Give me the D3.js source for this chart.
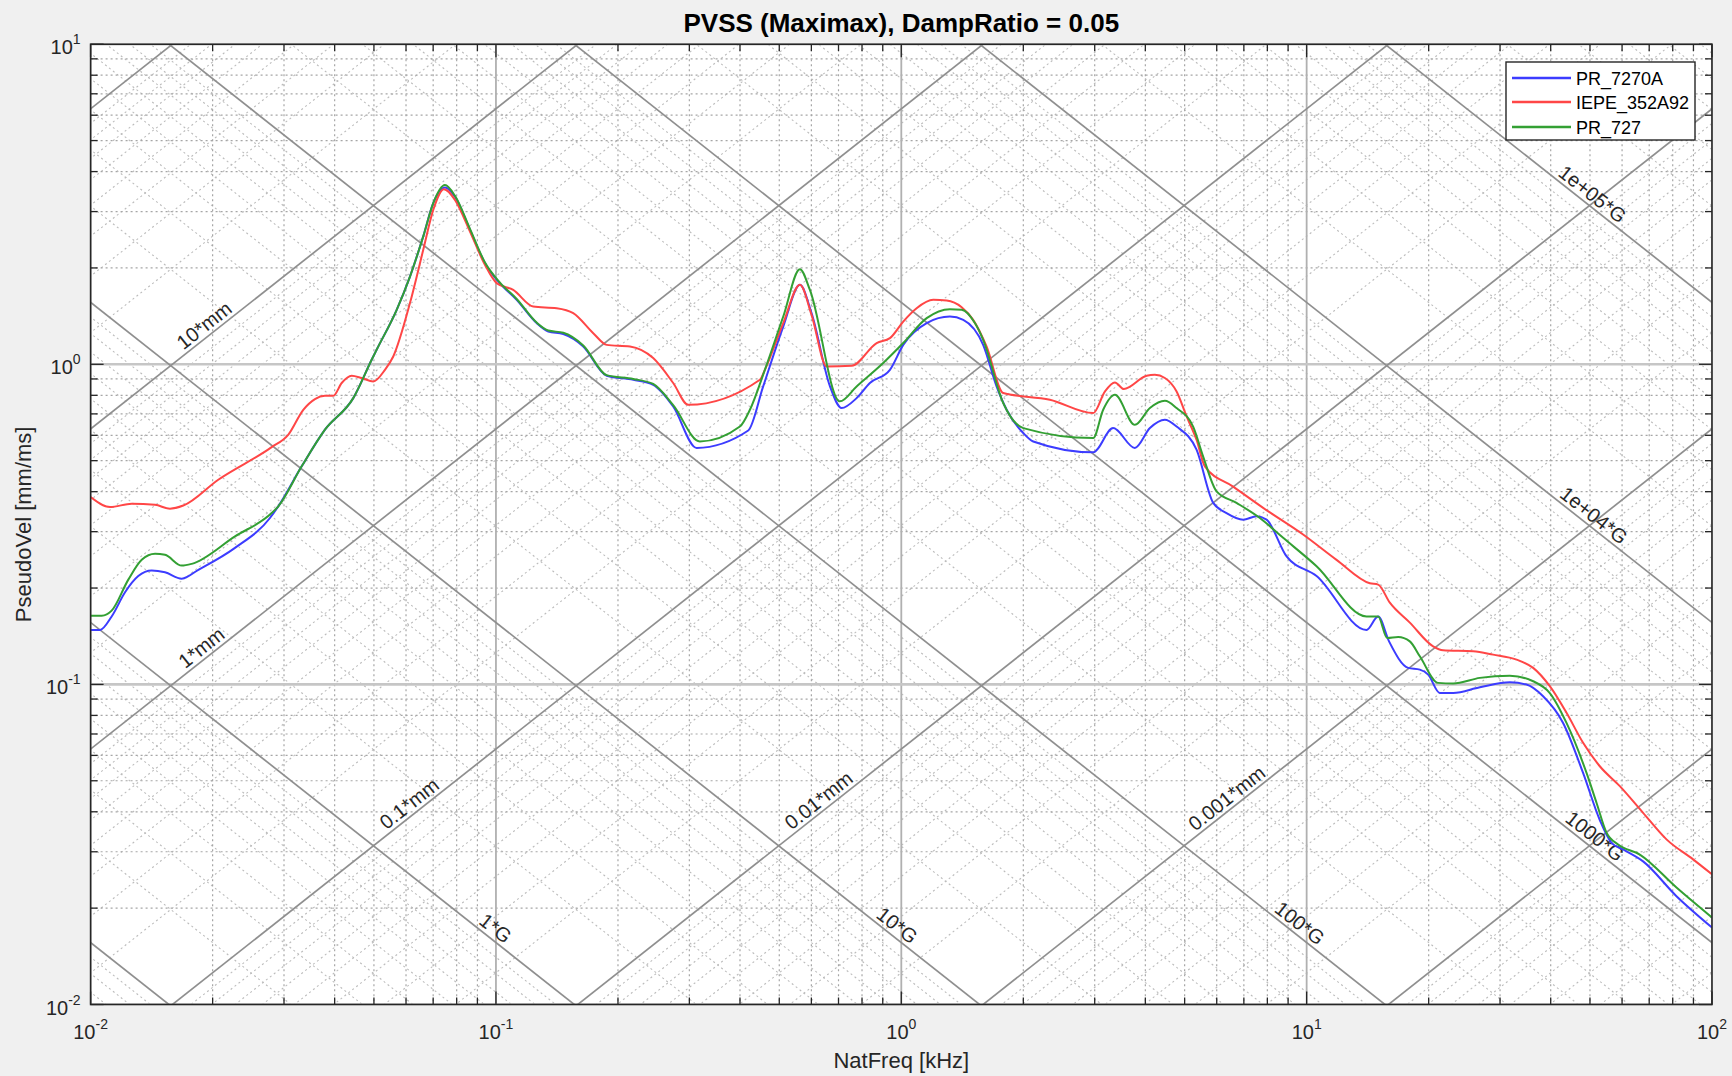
<!DOCTYPE html>
<html>
<head>
<meta charset="utf-8">
<script src="https://cdn.jsdelivr.net/npm/d3@7"></script>
<style>
  html, body { margin: 0; padding: 0; background: #f0f0f0; }
  svg { display: block; font-family: "Liberation Sans", Arial, Helvetica, sans-serif; }
</style>
</head>
<body>
<svg id="chart" width="1732" height="1076"></svg>
<script>
// ---------------- data ----------------
const chartTitle = "PVSS (Maximax), DampRatio = 0.05";
const xLabel = "NatFreq [kHz]";
const yLabel = "PseudoVel [mm/ms]";

const freqDomain = [0.01, 100];   // kHz
const velDomain = [0.01, 10];     // mm/ms

const seriesNames = ["PR_7270A", "IEPE_352A92", "PR_727"];
const seriesColors = ["#3c3cff", "#ff4646", "#33a033"];

// [natural frequency kHz, pseudo velocity mm/ms]
const pr7270A = [
  [0.0100,0.148],[0.01055,0.148],[0.01127,0.163],[0.01216,0.194],[0.01311,0.218],[0.01415,0.227],
  [0.01526,0.224],[0.01678,0.214],[0.01844,0.228],[0.02271,0.267],[0.02770,0.331],[0.02904,0.360],
  [0.03317,0.480],[0.03786,0.625],[0.04446,0.784],[0.04936,1.033],[0.05077,1.11],[0.05690,1.48],
  [0.06136,1.88],[0.06617,2.51],[0.07003,3.19],[0.07484,3.57],[0.07923,3.34],[0.08628,2.63],
  [0.09395,2.07],[0.1023,1.79],[0.1125,1.59],[0.1260,1.345],[0.1346,1.266],[0.1466,1.243],
  [0.1642,1.137],[0.1876,0.921],[0.2182,0.895],[0.2443,0.863],[0.2737,0.738],[0.3127,0.548],
  [0.4192,0.621],[0.4563,0.853],[0.5114,1.312],[0.5622,1.771],[0.6006,1.445],[0.6669,0.853],
  [0.7124,0.730],[0.7758,0.784],[0.8366,0.874],[0.9374,0.961],[1.011,1.150],[1.155,1.345],
  [1.318,1.410],[1.422,1.377],[1.592,1.150],[1.718,0.853],[1.819,0.721],[1.999,0.610],
  [2.116,0.574],[2.974,0.531],[3.332,0.632],[3.769,0.548],[4.105,0.632],[4.470,0.671],
  [4.777,0.639],[5.350,0.541],[5.881,0.369],[6.344,0.343],[6.973,0.327],[7.522,0.335],
  [7.962,0.327],[8.924,0.251],[10.58,0.218],[14.05,0.148],[15.01,0.163],[15.98,0.136],
  [17.80,0.1126],[19.02,0.1112],[19.94,0.1073],[21.31,0.0940],[22.98,0.0940],[26.75,0.0979],
  [31.72,0.1015],[34.86,0.0999],[38.31,0.0918],[42.92,0.0758],[48.08,0.0529],[52.87,0.0377],
  [56.51,0.0320],[60.36,0.0305],[67.61,0.0280],[81.72,0.0218],[100,0.0174]
];

const iepe352A92 = [
  [0.0100,0.385],[0.01117,0.358],[0.01263,0.367],[0.01442,0.364],[0.01570,0.354],[0.01693,0.362],
  [0.02065,0.436],[0.02797,0.551],[0.03072,0.602],[0.03347,0.721],[0.03577,0.779],[0.03786,0.797],
  [0.03969,0.797],[0.04163,0.874],[0.04406,0.921],[0.04663,0.906],[0.04981,0.884],[0.05322,0.961],
  [0.05580,1.058],[0.06136,1.553],[0.06617,2.278],[0.07003,3.036],[0.07442,3.524],[0.07923,3.263],
  [0.08628,2.598],[0.09395,2.045],[0.1004,1.793],[0.1103,1.708],[0.1236,1.515],[0.1412,1.497],
  [0.1551,1.445],[0.1738,1.251],[0.1876,1.150],[0.2141,1.137],[0.2443,1.046],[0.2737,0.874],
  [0.2981,0.747],[0.4479,0.895],[0.4607,0.961],[0.5114,1.345],[0.5622,1.771],[0.6006,1.427],
  [0.6545,0.984],[0.7541,0.989],[0.8693,1.165],[0.9374,1.207],[1.011,1.360],[1.091,1.497],
  [1.199,1.590],[1.294,1.582],[1.409,1.508],[1.504,1.377],[1.623,1.137],[1.784,0.813],
  [2.326,0.775],[2.974,0.704],[3.178,0.822],[3.365,0.878],[3.540,0.837],[4.029,0.921],
  [4.223,0.927],[4.470,0.906],[4.777,0.822],[5.057,0.687],[5.350,0.581],[5.609,0.480],
  [6.586,0.415],[7.811,0.356],[9.80,0.294],[11.85,0.245],[14.32,0.207],[15.01,0.205],
  [16.04,0.180],[17.97,0.156],[20.51,0.1315],[21.71,0.1278],[25.75,0.1269],[28.84,0.1239],
  [32.95,0.1195],[36.21,0.1126],[39.80,0.0987],[43.76,0.0815],[48.08,0.0657],[52.87,0.0555],
  [59.24,0.0481],[67.61,0.0397],[77.22,0.0328],[89.81,0.0284],[100,0.0255]
];

const pr727 = [
  [0.0100,0.164],[0.01065,0.164],[0.01127,0.170],[0.01239,0.2125],[0.01337,0.245],[0.01442,0.256],
  [0.01526,0.254],[0.01678,0.235],[0.01776,0.238],[0.02271,0.290],[0.02797,0.343],[0.02904,0.360],
  [0.03317,0.480],[0.03786,0.625],[0.04446,0.784],[0.04936,1.033],[0.05077,1.11],[0.05690,1.48],
  [0.06136,1.88],[0.06617,2.51],[0.07003,3.19],[0.07484,3.63],[0.07923,3.36],[0.08628,2.65],
  [0.09395,2.08],[0.1023,1.80],[0.1125,1.60],[0.1260,1.35],[0.1346,1.275],[0.1466,1.255],
  [0.1642,1.145],[0.1876,0.925],[0.2182,0.900],[0.2443,0.868],[0.2737,0.745],[0.3185,0.574],
  [0.3998,0.639],[0.4232,0.721],[0.4607,0.961],[0.5114,1.410],[0.5622,1.982],[0.5950,1.708],
  [0.7055,0.766],[0.7758,0.853],[0.9022,1.009],[1.011,1.165],[1.155,1.394],[1.318,1.487],
  [1.409,1.480],[1.519,1.345],[1.592,1.193],[1.784,0.757],[1.999,0.632],[2.974,0.588],
  [3.148,0.721],[3.365,0.803],[3.769,0.647],[4.105,0.730],[4.470,0.769],[4.777,0.730],
  [5.248,0.639],[5.555,0.515],[5.995,0.401],[6.714,0.369],[7.666,0.331],[8.750,0.287],
  [10.58,0.234],[14.05,0.163],[15.01,0.163],[15.80,0.1397],[16.82,0.1407],[17.97,0.1363],
  [19.02,0.1224],[21.10,0.1011],[22.98,0.1006],[26.75,0.1048],[31.72,0.1065],[36.21,0.1023],
  [39.80,0.0940],[43.76,0.0758],[49.03,0.0529],[51.89,0.0427],[54.93,0.0344],[58.66,0.0316],
  [66.36,0.0294],[81.72,0.0232],[100,0.0187]
];

const seriesData = [pr7270A, iepe352A92, pr727];

// tripartite grid: constant displacement (mm) and constant acceleration (G) lines
const dispValues = [1e-4, 1e-3, 0.01, 0.1, 1, 10, 100];
const accelValues = [0.1, 1, 10, 100, 1000, 1e4, 1e5];
const dispLabelText = ["0.001*mm", "0.01*mm", "0.1*mm", "1*mm", "10*mm"];
const dispLabelValue = [0.001, 0.01, 0.1, 1, 10];
const dispLabelFreq = [6.6, 0.65, 0.0635, 0.0195, 0.0198];
const accelLabelText = ["1*G", "10*G", "100*G", "1000*G", "1e+04*G", "1e+05*G"];
const accelLabelValue = [1, 10, 100, 1000, 1e4, 1e5];
const accelLabelFreq = [0.096, 0.94, 9.25, 49.5, 49.2, 48.8];

const xTickExps = [-2, -1, 0, 1, 2];
const yTickExps = [-2, -1, 0, 1];

// ---------------- layout ----------------
const W = 1732, H = 1076;
const plot = { left: 90.6, right: 1712, top: 44.2, bottom: 1004.5 };
const G_MM_MS2 = 0.00980665; // 1 G in mm/ms^2

const svg = d3.select("#chart");
svg.append("rect").attr("width", W).attr("height", H).attr("fill", "#f0f0f0");

const x = d3.scaleLog().domain(freqDomain).range([plot.left, plot.right]);
const y = d3.scaleLog().domain(velDomain).range([plot.bottom, plot.top]);

svg.append("defs").append("clipPath").attr("id", "plotClip")
  .append("rect")
  .attr("x", plot.left).attr("y", plot.top)
  .attr("width", plot.right - plot.left).attr("height", plot.bottom - plot.top);

svg.append("rect")
  .attr("x", plot.left).attr("y", plot.top)
  .attr("width", plot.right - plot.left).attr("height", plot.bottom - plot.top)
  .attr("fill", "#ffffff");

const gPlot = svg.append("g").attr("clip-path", "url(#plotClip)");

const isDecade = v => Math.abs(Math.log10(v) - Math.round(Math.log10(v))) < 1e-9;
const xAll = x.ticks();
const yAll = y.ticks();
const xMinor = xAll.filter(v => !isDecade(v));
const yMinor = yAll.filter(v => !isDecade(v));
const xMajor = xAll.filter(isDecade);
const yMajor = yAll.filter(isDecade);

// diagonal line generators
const dispV = (f, d) => 2 * Math.PI * f * d;
const accelV = (f, a) => a * G_MM_MS2 / (2 * Math.PI * f);
const fSpan = [1e-3, 1e3];

const minorMultiples = (kLo, kHi) => {
  const out = [];
  d3.range(kLo, kHi + 1).forEach(k => d3.range(2, 10).forEach(m => out.push(m * Math.pow(10, k))));
  return out;
};

// minor diagonals (dotted)
const gDiagMinor = gPlot.append("g")
  .attr("stroke", "#bcbcbc").attr("stroke-width", 1.1)
  .attr("stroke-dasharray", "2,3").attr("fill", "none");
minorMultiples(-6, 2).forEach(d => {
  gDiagMinor.append("line")
    .attr("x1", x(fSpan[0])).attr("y1", y(dispV(fSpan[0], d)))
    .attr("x2", x(fSpan[1])).attr("y2", y(dispV(fSpan[1], d)));
});
minorMultiples(-3, 5).forEach(a => {
  gDiagMinor.append("line")
    .attr("x1", x(fSpan[0])).attr("y1", y(accelV(fSpan[0], a)))
    .attr("x2", x(fSpan[1])).attr("y2", y(accelV(fSpan[1], a)));
});

// minor rectangular grid (dotted)
const gMinor = gPlot.append("g")
  .attr("stroke", "#a6a6a6").attr("stroke-width", 1.2)
  .attr("stroke-dasharray", "2,3");
xMinor.forEach(v => gMinor.append("line")
  .attr("x1", x(v)).attr("x2", x(v)).attr("y1", plot.top).attr("y2", plot.bottom));
yMinor.forEach(v => gMinor.append("line")
  .attr("y1", y(v)).attr("y2", y(v)).attr("x1", plot.left).attr("x2", plot.right));

// major rectangular grid
const gMajor = gPlot.append("g");
xMajor.forEach(v => gMajor.append("line")
  .attr("x1", x(v)).attr("x2", x(v)).attr("y1", plot.top).attr("y2", plot.bottom)
  .attr("stroke", "#b0b0b0").attr("stroke-width", 1.8));
yMajor.forEach(v => gMajor.append("line")
  .attr("y1", y(v)).attr("y2", y(v)).attr("x1", plot.left).attr("x2", plot.right)
  .attr("stroke", "#c6c6c6").attr("stroke-width", 2.6));

// major diagonals
const gDiag = gPlot.append("g").attr("stroke", "#8f8f8f").attr("stroke-width", 1.7);
dispValues.forEach(d => gDiag.append("line")
  .attr("x1", x(fSpan[0])).attr("y1", y(dispV(fSpan[0], d)))
  .attr("x2", x(fSpan[1])).attr("y2", y(dispV(fSpan[1], d))));
accelValues.forEach(a => gDiag.append("line")
  .attr("x1", x(fSpan[0])).attr("y1", y(accelV(fSpan[0], a)))
  .attr("x2", x(fSpan[1])).attr("y2", y(accelV(fSpan[1], a))));

// diagonal labels, rotated along their lines
const slopeDeg = Math.atan2(y(1) - y(10), x(10) - x(1)) * 180 / Math.PI;
const gDiagLabels = gPlot.append("g")
  .attr("font-size", 20).attr("fill", "#262626").attr("text-anchor", "middle");
dispLabelText.forEach((t, i) => {
  const f = dispLabelFreq[i];
  const px = x(f), py = y(dispV(f, dispLabelValue[i]));
  gDiagLabels.append("text")
    .attr("transform", `translate(${px},${py}) rotate(${-slopeDeg})`)
    .attr("dy", -4).text(t);
});
accelLabelText.forEach((t, i) => {
  const f = accelLabelFreq[i];
  const px = x(f), py = y(accelV(f, accelLabelValue[i]));
  gDiagLabels.append("text")
    .attr("transform", `translate(${px},${py}) rotate(${slopeDeg})`)
    .attr("dy", -4).text(t);
});

// response curves
const line = d3.line()
  .x(d => x(d[0])).y(d => y(d[1]))
  .curve(d3.curveMonotoneX);
seriesData.forEach((s, i) => {
  gPlot.append("path").datum(s)
    .attr("d", line)
    .attr("fill", "none")
    .attr("stroke", seriesColors[i])
    .attr("stroke-width", 2)
    .attr("stroke-linejoin", "round");
});

// axes box and ticks
const axisColor = "#262626";
svg.append("rect")
  .attr("x", plot.left).attr("y", plot.top)
  .attr("width", plot.right - plot.left).attr("height", plot.bottom - plot.top)
  .attr("fill", "none").attr("stroke", axisColor).attr("stroke-width", 1.6);

const gTicks = svg.append("g").attr("stroke", axisColor).attr("stroke-width", 1.3);
xAll.forEach(v => {
  const len = isDecade(v) ? 13 : 7;
  gTicks.append("line").attr("x1", x(v)).attr("x2", x(v))
    .attr("y1", plot.bottom).attr("y2", plot.bottom - len);
  gTicks.append("line").attr("x1", x(v)).attr("x2", x(v))
    .attr("y1", plot.top).attr("y2", plot.top + len);
});
yAll.forEach(v => {
  const len = isDecade(v) ? 13 : 7;
  gTicks.append("line").attr("y1", y(v)).attr("y2", y(v))
    .attr("x1", plot.left).attr("x2", plot.left + len);
  gTicks.append("line").attr("y1", y(v)).attr("y2", y(v))
    .attr("x1", plot.right).attr("x2", plot.right - len);
});

// power-of-ten tick labels
const gTickLabels = svg.append("g").attr("fill", axisColor).attr("font-size", 20);
xTickExps.forEach(e => {
  const t = gTickLabels.append("text")
    .attr("x", x(Math.pow(10, e))).attr("y", plot.bottom + 34)
    .attr("text-anchor", "middle");
  t.append("tspan").text("10");
  t.append("tspan").attr("dy", -10).attr("font-size", 14).text(e);
});
yTickExps.forEach(e => {
  const t = gTickLabels.append("text")
    .attr("x", plot.left - 10).attr("y", y(Math.pow(10, e)) + 10)
    .attr("text-anchor", "end");
  t.append("tspan").text("10");
  t.append("tspan").attr("dy", -10).attr("font-size", 14).text(e);
});

// titles
const midX = (plot.left + plot.right) / 2;
svg.append("text")
  .attr("x", midX).attr("y", 32)
  .attr("text-anchor", "middle").attr("font-size", 26).attr("font-weight", "bold")
  .attr("fill", "#000").text(chartTitle);
svg.append("text")
  .attr("x", midX).attr("y", 1068)
  .attr("text-anchor", "middle").attr("font-size", 22)
  .attr("fill", axisColor).text(xLabel);
svg.append("text")
  .attr("transform", `translate(31,${(plot.top + plot.bottom) / 2}) rotate(-90)`)
  .attr("text-anchor", "middle").attr("font-size", 22)
  .attr("fill", axisColor).text(yLabel);

// legend
const legend = { x: 1506, y: 62, w: 189, h: 78, rows: [78, 102, 127] };
const gLegend = svg.append("g");
gLegend.append("rect")
  .attr("x", legend.x).attr("y", legend.y).attr("width", legend.w).attr("height", legend.h)
  .attr("fill", "#fff").attr("stroke", axisColor).attr("stroke-width", 1.4);
seriesNames.forEach((name, i) => {
  const ry = legend.rows[i];
  gLegend.append("line")
    .attr("x1", legend.x + 6).attr("x2", legend.x + 65)
    .attr("y1", ry).attr("y2", ry)
    .attr("stroke", seriesColors[i]).attr("stroke-width", 2.4);
  gLegend.append("text")
    .attr("x", legend.x + 70).attr("y", ry + 6.5)
    .attr("font-size", 18).attr("fill", "#000").text(name);
});
</script>
</body>
</html>
